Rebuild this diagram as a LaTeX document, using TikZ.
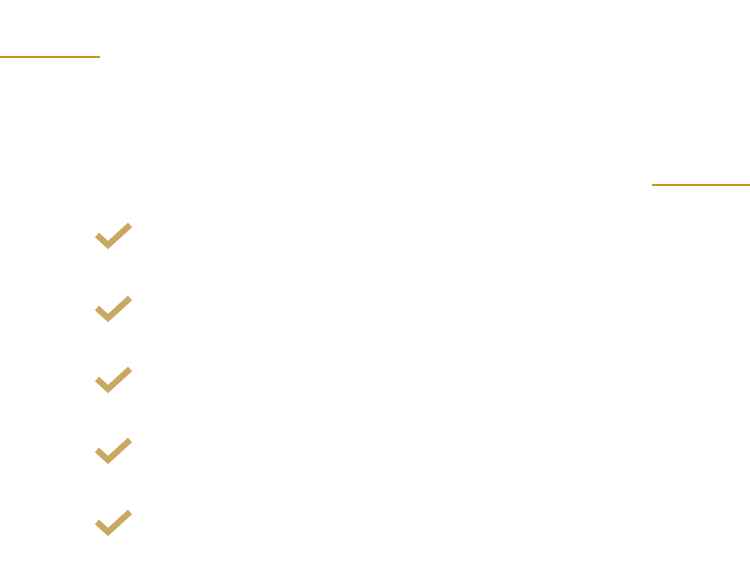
\documentclass[tikz,border=0pt]{standalone}
\definecolor{gold}{HTML}{C8961E}
\definecolor{checkc}{HTML}{C9A862}
\begin{document}
\begin{tikzpicture}[x=1pt,y=-1pt,
  rule/.style={draw=gold,line width=2pt},
  tick/.style={draw=checkc,line width=6pt,line join=miter}]
\useasboundingbox (0,0) rectangle (750,583);
\coordinate (l1a) at (0,57.5); \coordinate (l1b) at (100,57.5);
\coordinate (l2a) at (652,185.5); \coordinate (l2b) at (750,185.5);
\draw[rule] (l1a) -- (l1b);
\draw[rule] (l2a) -- (l2b);
\foreach \dy [count=\i] in {0,73,144,215,287}{
  \coordinate (c\i) at (0,\dy);
  \draw[tick] ([shift={(97,235)}]c\i) -- ([shift={(108,245)}]c\i) -- ([shift={(130,225)}]c\i);
}
\end{tikzpicture}
\end{document}
